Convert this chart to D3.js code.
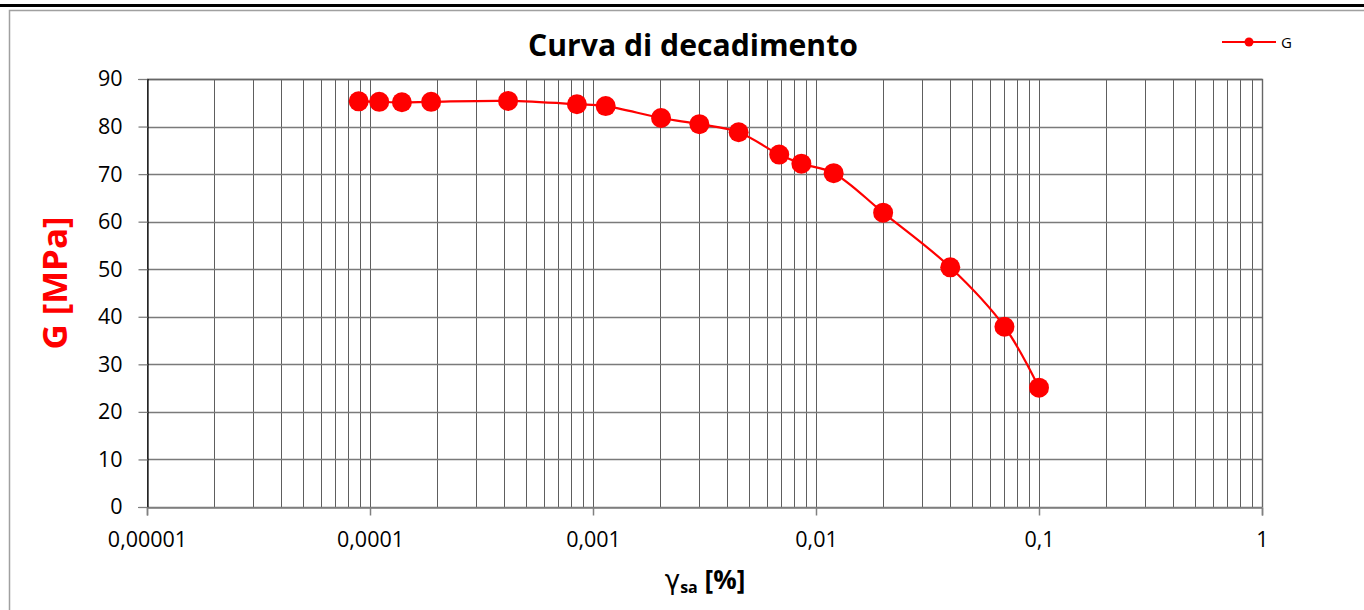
<!DOCTYPE html>
<html><head><meta charset="utf-8">
<script src="https://cdn.jsdelivr.net/npm/d3@7"></script>
<style>
html,body{margin:0;padding:0;background:#fff;}
svg{display:block;font-family:"Open Sans",sans-serif;}
</style></head>
<body><svg id="c" width="1364" height="610"></svg>
<script>
// ---- data ----
const strain = [0.000089, 0.00011, 0.000139, 0.000188, 0.000416, 0.000847, 0.00114, 0.00202, 0.0030, 0.0045, 0.00684, 0.0086, 0.012, 0.020, 0.040, 0.070, 0.100];
const Gvals  = [85.3, 85.2, 85.1, 85.2, 85.4, 84.7, 84.3, 81.8, 80.5, 78.8, 74.1, 72.2, 70.2, 61.9, 50.4, 37.9, 25.1];
const xTickValues = [0.00001, 0.0001, 0.001, 0.01, 0.1, 1];
const xTickLabels = ["0,00001", "0,0001", "0,001", "0,01", "0,1", "1"];
const yTickValues = [0, 10, 20, 30, 40, 50, 60, 70, 80, 90];
const titleText = "Curva di decadimento";
const seriesName = "G";

const svg = d3.select("#c");
const L = 147, R = 1262, T = 79, B = 507;
const x = d3.scaleLog().domain([0.00001, 1]).range([L, R]);
const y = d3.scaleLinear().domain([0, 90]).range([B, T]);
const data = strain.map((s, i) => ({s, g: Gvals[i]}));

function fit(sel, w) {
  const n = sel.node(); const fs = parseFloat(sel.attr("font-size"));
  const len = n.getComputedTextLength();
  sel.attr("font-size", fs * w / len);
}

// frame
svg.append("rect").attr("x", 0).attr("y", 4).attr("width", 1364).attr("height", 3).attr("fill", "#000");
svg.append("path").attr("d", "M9.5,620 V10.5 H1370").attr("fill", "none").attr("stroke", "#a0a0a0").attr("stroke-width", 1.5);

// grid
const minor = [];
for (let e = -5; e < 0; e++) for (let k = 1; k <= 9; k++) minor.push(k * Math.pow(10, e));
minor.push(1);
const g = svg.append("g");
g.selectAll("line.v").data(minor).join("line")
  .attr("x1", d => Math.round(x(d)) + 0.5).attr("x2", d => Math.round(x(d)) + 0.5)
  .attr("y1", T).attr("y2", B).attr("stroke", "#5e5e5e").attr("stroke-width", 1);
g.selectAll("line.h").data(yTickValues).join("line")
  .attr("x1", L).attr("x2", R)
  .attr("y1", d => Math.round(y(d)) + 0.5).attr("y2", d => Math.round(y(d)) + 0.5)
  .attr("stroke", "#7a7a7a").attr("stroke-width", 1.4);
// plot border right/top
svg.append("path").attr("d", `M${L},${T+0.5} H${R+0.5} V${B}`).attr("fill", "none").attr("stroke", "#666").attr("stroke-width", 1.4);

// axes
const yAxis = d3.axisLeft(y).tickValues(yTickValues).tickSize(9).tickPadding(16).tickFormat(d3.format("d"));
const ya = svg.append("g").attr("transform", `translate(${L + 0.5},0)`).call(yAxis);
ya.select(".domain").attr("stroke", "#000").attr("stroke-width", 1.2);
ya.selectAll(".tick line").attr("stroke", "#808080").attr("stroke-width", 1.3);
ya.selectAll(".tick text").attr("font-size", 21.5).attr("fill", "#000").attr("font-family", "Open Sans");

const xAxis = d3.axisBottom(x).tickValues(xTickValues).tickSize(8).tickPadding(16).tickFormat((d, i) => xTickLabels[i]);
const xa = svg.append("g").attr("transform", `translate(0,${B + 0.5})`).call(xAxis);
xa.select(".domain").attr("stroke", "#808080").attr("stroke-width", 1.5);
xa.selectAll(".tick line").attr("stroke", "#808080").attr("stroke-width", 1.5);
xa.selectAll(".tick text").attr("font-size", 21.5).attr("fill", "#000").attr("font-family", "Open Sans");

// series
const line = d3.line().x(d => x(d.s)).y(d => y(d.g)).curve(d3.curveCatmullRom.alpha(0.5));
svg.append("path").datum(data).attr("d", line).attr("fill", "none").attr("stroke", "#ff0000").attr("stroke-width", 2.2);
svg.selectAll("circle.pt").data(data).join("circle").attr("class", "pt")
  .attr("cx", d => x(d.s)).attr("cy", d => y(d.g)).attr("r", 10).attr("fill", "#ff0000");

// title
const t = svg.append("text").attr("x", 693).attr("y", 56).attr("text-anchor", "middle")
  .attr("font-size", 27).attr("font-weight", "bold").attr("fill", "#000").text(titleText);
fit(t, 330);

// y title
const yt = svg.append("text").attr("transform", "translate(67,283) rotate(-90)").attr("text-anchor", "middle")
  .attr("font-size", 22).attr("font-weight", "bold").attr("fill", "#ff0000").text("G [MPa]");
fit(yt, 133);

// x title
const xt = svg.append("text").attr("x", 705).attr("y", 589).attr("text-anchor", "middle")
  .attr("font-size", 23).attr("font-weight", "bold").attr("fill", "#000");
xt.append("tspan").attr("font-family", "DejaVu Sans").attr("font-weight", "normal").text("γ");
xt.append("tspan").attr("font-size", 16).attr("dy", 4).text("sa");
xt.append("tspan").attr("dy", -4).text(" [%]");
fit(xt, 83);

// legend
const lg = svg.append("g");
lg.append("line").attr("x1", 1222).attr("x2", 1276).attr("y1", 42).attr("y2", 42).attr("stroke", "#ff0000").attr("stroke-width", 2.2);
lg.append("circle").attr("cx", 1249).attr("cy", 42).attr("r", 4.5).attr("fill", "#ff0000");
lg.append("text").attr("x", 1281).attr("y", 48).attr("font-size", 15).attr("fill", "#000").text(seriesName);
</script></body></html>
